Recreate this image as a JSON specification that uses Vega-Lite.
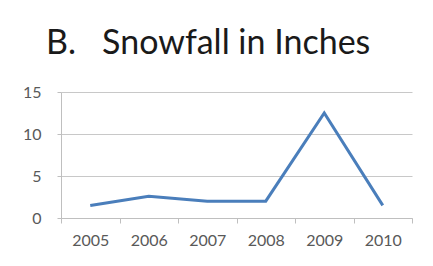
{
  "$schema": "https://vega.github.io/schema/vega-lite/v6.json",
  "width": 351,
  "height": 126,
  "autosize": {"type": "none"},
  "padding": {"left": 61, "top": 92, "right": 21, "bottom": 48},
  "background": "white",
  "title": {
    "text": "B.\u00a0\u00a0\u00a0Snowfall in Inches",
    "anchor": "start",
    "frame": "group",
    "dx": -15,
    "offset": 23,
    "font": "Lato",
    "fontSize": 34,
    "fontWeight": "normal",
    "color": "#1a1a1a"
  },
  "data": {
    "values": [
      {"year": "2005", "snowfall": 1.5},
      {"year": "2006", "snowfall": 2.6},
      {"year": "2007", "snowfall": 2.0},
      {"year": "2008", "snowfall": 2.0},
      {"year": "2009", "snowfall": 12.5},
      {"year": "2010", "snowfall": 1.5}
    ]
  },
  "mark": {"type": "line", "color": "#4a7ebb", "strokeWidth": 3},
  "encoding": {
    "x": {
      "field": "year",
      "type": "ordinal",
      "scale": {"type": "band", "paddingInner": 0, "paddingOuter": 0},
      "axis": {
        "title": null,
        "labelAngle": 0,
        "tickBand": "extent",
        "tickSize": 5,
        "tickColor": "#bfbfbf",
        "domainColor": "#bfbfbf",
        "labelPadding": 9,
        "labelFont": "Lato",
        "labelFontSize": 16,
        "labelColor": "#595959"
      }
    },
    "y": {
      "field": "snowfall",
      "type": "quantitative",
      "scale": {"domain": [0, 15]},
      "axis": {
        "title": null,
        "values": [0, 5, 10, 15],
        "grid": true,
        "gridColor": "#c8c8c8",
        "tickSize": 4,
        "tickColor": "#bfbfbf",
        "domainColor": "#bfbfbf",
        "labelPadding": 16,
        "labelFont": "Lato",
        "labelFontSize": 16,
        "labelColor": "#595959"
      }
    }
  },
  "config": {"view": {"stroke": null}}
}
